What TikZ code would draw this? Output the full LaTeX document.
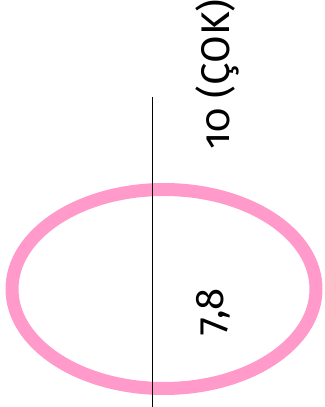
\documentclass[tikz,border=0pt]{standalone}
\usepackage{fontspec}
\setmainfont{Fira Sans}[Numbers=OldStyle]
\definecolor{ringpink}{HTML}{FF9ACA}
\tikzset{
  ring/.style={draw=ringpink, line width=13pt},
  axisline/.style={draw=black, line width=1.2pt},
  bigtext/.style={font=\fontsize{40}{44}\selectfont, inner sep=0pt, rotate=90}
}
\begin{document}
\begin{tikzpicture}[x=1pt,y=1pt]
\useasboundingbox (0,0) rectangle (324,407);
\path[ring] (164,118) ellipse [x radius=152, y radius=99.5];
\coordinate (top) at (152.7,310);
\coordinate (bot) at (152.7,0);
\path[axisline] (top) -- (bot);
\node[bigtext, anchor=center] (val) at (213,95) {7,8};
\node[bigtext, anchor=base west] (lbl) at (229.5,257) {10 (ÇOK)};
\end{tikzpicture}
\end{document}
